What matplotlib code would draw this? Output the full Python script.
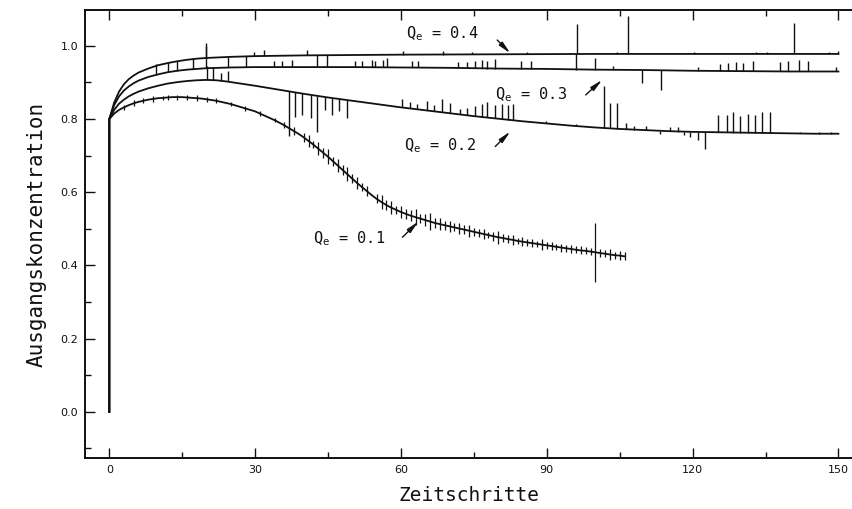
import numpy as np
import matplotlib.pyplot as plt
from matplotlib.ticker import MultipleLocator, FormatStrFormatter

INK = "#111111"
MONO = "DejaVu Sans Mono"

plt.rcParams.update({
    "mathtext.fontset": "custom",
    "mathtext.rm": MONO,
    "mathtext.it": MONO,
    "font.size": 8,
})

# ── data ──────────────────────────────────────────────────────────────────────
start_level = 0.0                      # every run starts at 0 and jumps to 0.8
q_values = [0.1, 0.2, 0.3, 0.4]

# Q_e = 0.1, one value per time step 0..106
q1_y = [0.800, 0.815, 0.825, 0.832, 0.838, 0.843, 0.847, 0.850, 0.853, 0.855,
        0.857, 0.858, 0.859, 0.860, 0.860, 0.860, 0.859, 0.858, 0.857, 0.856,
        0.854, 0.852, 0.850, 0.847, 0.844, 0.841, 0.837, 0.833, 0.829, 0.825,
        0.821, 0.815, 0.809, 0.803, 0.797, 0.790, 0.783, 0.775, 0.767, 0.759,
        0.750, 0.740, 0.730, 0.719, 0.708, 0.697, 0.685, 0.673, 0.661, 0.649,
        0.637, 0.625, 0.614, 0.603, 0.592, 0.582, 0.573, 0.565, 0.558, 0.552,
        0.546, 0.541, 0.536, 0.532, 0.528, 0.524, 0.520, 0.516, 0.513, 0.510,
        0.507, 0.504, 0.501, 0.498, 0.495, 0.492, 0.489, 0.486, 0.483, 0.480,
        0.477, 0.475, 0.472, 0.470, 0.467, 0.465, 0.463, 0.461, 0.459, 0.457,
        0.455, 0.453, 0.451, 0.449, 0.447, 0.445, 0.443, 0.441, 0.440, 0.438,
        0.436, 0.434, 0.432, 0.430, 0.428, 0.427, 0.425]
q1_tick_steps = [3, 5, 7, 9, 11, 12, 14, 16, 18, 20, 22, 25, 28, 31, 34, 36, 38,
                 40, 41, 42, 43, 44, 45, 46, 47, 48, 49, 50, 51, 52, 53,
                 55, 56, 57, 58, 59, 60, 61, 62, 63, 64, 65, 66, 67, 68, 69, 70,
                 71, 72, 73, 74, 75,
                 76, 77, 78, 79, 80, 81, 82, 83, 84, 85, 86, 87, 88, 89, 90, 91,
                 92, 93, 94, 95, 96, 97, 98, 99, 100, 101, 102, 103, 104, 105, 106]
q1_tick_half = [0.006, 0.008, 0.007, 0.008, 0.006, 0.008, 0.007, 0.006, 0.008,
                0.006, 0.007, 0.006, 0.008, 0.007, 0.006, 0.008, 0.010,
                0.012, 0.016, 0.010, 0.018, 0.014, 0.020, 0.012, 0.017, 0.013,
                0.019, 0.012, 0.016, 0.011, 0.014,
                0.012, 0.020, 0.014, 0.018, 0.011, 0.016, 0.013, 0.015, 0.022,
                0.012, 0.016, 0.024, 0.013, 0.017, 0.012, 0.015, 0.011, 0.014,
                0.012, 0.016, 0.011,
                0.010, 0.013, 0.009, 0.012, 0.018, 0.011, 0.010, 0.013, 0.009,
                0.012, 0.010, 0.011, 0.009, 0.016, 0.010, 0.012, 0.009, 0.011,
                0.010, 0.012, 0.009, 0.011, 0.010, 0.009, 0.080, 0.012, 0.010,
                0.014, 0.009, 0.012, 0.011]

# Q_e = 0.2
q2_x = [0, 1, 2, 3, 4, 5, 6, 8, 10, 12, 14, 16, 18, 20, 22, 24, 26, 28, 30,
        35, 40, 45, 50, 55, 60, 65, 70, 75, 80, 85, 90, 95, 100, 105, 110,
        115, 120, 125, 130, 135, 140, 145, 150]
q2_y = [0.800, 0.825, 0.842, 0.853, 0.862, 0.869, 0.875, 0.884, 0.891, 0.897,
        0.901, 0.904, 0.906, 0.907, 0.906, 0.903, 0.899, 0.895, 0.891,
        0.880, 0.869, 0.859, 0.850, 0.841, 0.832, 0.824, 0.816, 0.808, 0.801,
        0.794, 0.788, 0.782, 0.777, 0.773, 0.770, 0.767, 0.765, 0.764, 0.763,
        0.762, 0.761, 0.760, 0.760]
q2_spike_x = [20.0, 21.3, 23.0, 24.5,
              36.9, 38.3, 39.6, 41.4, 42.7, 44.4, 45.8, 47.2, 48.9,
              60.2, 61.9, 63.2, 65.3, 66.7, 68.4, 70.1, 72.2, 73.6, 75.3, 76.6,
              77.7, 79.4, 80.8, 82.1, 83.1, 89.8, 96.0,
              101.7, 103.1, 104.5, 106.2, 108.0, 110.5, 113.3, 115.3, 117.0,
              118.2, 119.5, 121.2, 122.6,
              125.3, 127.0, 128.4, 129.8, 131.5, 132.8, 134.2, 136.0,
              142.0, 146.0, 148.5]
q2_spike_from = [0.907, 0.906, 0.905, 0.903,
                 0.877, 0.874, 0.870, 0.867, 0.864, 0.861, 0.858, 0.855, 0.852,
                 0.832, 0.829, 0.827, 0.824, 0.821, 0.819, 0.816, 0.813, 0.811,
                 0.808, 0.806, 0.805, 0.802, 0.800, 0.798, 0.797, 0.789, 0.781,
                 0.776, 0.775, 0.774, 0.772, 0.771, 0.770, 0.768, 0.767, 0.766,
                 0.766, 0.765, 0.765, 0.764,
                 0.764, 0.764, 0.763, 0.763, 0.763, 0.763, 0.762, 0.762,
                 0.761, 0.760, 0.760]
q2_spike_to = [0.945, 0.943, 0.925, 0.930,
               0.753, 0.807, 0.810, 0.803, 0.766, 0.825, 0.812, 0.821, 0.803,
               0.854, 0.846, 0.840, 0.850, 0.838, 0.854, 0.843, 0.828, 0.831,
               0.835, 0.840, 0.848, 0.838, 0.842, 0.838, 0.840, 0.795, 0.787,
               0.889, 0.845, 0.845, 0.790, 0.782, 0.780, 0.758, 0.778, 0.778,
               0.757, 0.752, 0.744, 0.717,
               0.810, 0.812, 0.818, 0.808, 0.815, 0.810, 0.818, 0.818,
               0.766, 0.765, 0.766]

# Q_e = 0.3
q3_x = [0, 1, 2, 3, 4, 5, 6, 8, 10, 12, 14, 16, 18, 20, 25, 30,
        40, 50, 60, 70, 80, 90, 100, 110, 120, 130, 140, 150]
q3_y = [0.800, 0.838, 0.862, 0.878, 0.889, 0.898, 0.905, 0.915, 0.922, 0.928,
        0.932, 0.935, 0.937, 0.939, 0.941, 0.942,
        0.942, 0.942, 0.941, 0.940, 0.938, 0.937, 0.935, 0.934, 0.932, 0.931,
        0.930, 0.930]
q3_spike_x = [9.6, 12.0, 14.0, 17.3, 19.9, 24.5, 28.2, 33.9, 35.6, 37.6, 42.7,
              44.8, 50.6, 51.9, 54.0, 54.7, 56.4, 57.1, 62.2, 63.5, 71.8, 73.6,
              75.3, 76.6, 77.7, 79.4, 84.7, 86.8, 96.0, 100.0, 103.6, 109.5,
              113.4, 121.2, 125.6, 127.3, 129.0, 130.4, 132.5, 138.0, 139.7,
              141.8, 143.8, 149.6]
q3_spike_from = [0.920, 0.928, 0.932, 0.936, 0.939, 0.941, 0.942, 0.942, 0.942,
                 0.942, 0.942, 0.942, 0.942, 0.942, 0.942, 0.942, 0.941, 0.941,
                 0.941, 0.941, 0.940, 0.939, 0.939, 0.939, 0.938, 0.938, 0.937,
                 0.937, 0.935, 0.935, 0.935, 0.934, 0.933, 0.932, 0.932, 0.932,
                 0.931, 0.931, 0.931, 0.930, 0.930, 0.930, 0.930, 0.930]
q3_spike_to = [0.950, 0.955, 0.960, 0.966, 1.000, 0.970, 0.972, 0.958, 0.960,
               0.962, 0.975, 0.975, 0.958, 0.960, 0.962, 0.958, 0.962, 0.966,
               0.958, 0.960, 0.956, 0.957, 0.958, 0.962, 0.958, 0.964, 0.958,
               0.960, 0.978, 0.968, 0.945, 0.898, 0.880, 0.942, 0.950, 0.952,
               0.955, 0.952, 0.958, 0.955, 0.958, 0.962, 0.960, 0.942]

# Q_e = 0.4
q4_x = [0, 1, 2, 3, 4, 5, 6, 8, 10, 12, 14, 16, 18, 20, 25, 30,
        40, 60, 80, 100, 120, 150]
q4_y = [0.800, 0.845, 0.875, 0.895, 0.909, 0.919, 0.927, 0.938, 0.947, 0.953,
        0.958, 0.962, 0.965, 0.967, 0.970, 0.972,
        0.974, 0.976, 0.977, 0.978, 0.978, 0.978]
q4_spike_x = [19.9, 29.7, 31.9, 40.7, 60.5, 68.6, 74.7, 86.0, 96.3, 104.5,
              106.8, 120.3, 133.0, 135.4, 140.8, 148.0, 150.0]
q4_spike_from = [0.967, 0.972, 0.972, 0.974, 0.976, 0.976, 0.977, 0.977, 0.978,
                 0.978, 0.978, 0.978, 0.978, 0.978, 0.978, 0.978, 0.978]
q4_spike_to = [1.007, 0.982, 0.990, 0.988, 0.985, 0.987, 0.984, 0.984, 1.060,
               0.984, 1.082, 0.984, 0.983, 0.984, 1.063, 0.984, 0.985]

# ── figure ───────────────────────────────────────────────────────────────────
fig = plt.figure(figsize=(8.53, 5.09), dpi=100)
ax = fig.add_axes([85 / 853, 1 - 458 / 509, 768 / 853, 448 / 509])

LW = 1.3
steps = np.arange(len(q1_y))
ax.plot(np.r_[0, steps], np.r_[start_level, q1_y], color=INK, lw=LW)
q1_arr = np.array(q1_y)
half = np.array(q1_tick_half)
ax.vlines(q1_tick_steps, q1_arr[q1_tick_steps] - half, q1_arr[q1_tick_steps] + half,
          color=INK, lw=0.9)

for xs, ys, sx, sf, st in [
    (q2_x, q2_y, q2_spike_x, q2_spike_from, q2_spike_to),
    (q3_x, q3_y, q3_spike_x, q3_spike_from, q3_spike_to),
    (q4_x, q4_y, q4_spike_x, q4_spike_from, q4_spike_to),
]:
    ax.plot(np.r_[0, xs], np.r_[start_level, ys], color=INK, lw=LW)
    ax.vlines(sx, sf, st, color=INK, lw=1.0)

# curve labels with arrows
label_pos = [(42.0, 0.474), (60.7, 0.727), (79.4, 0.866), (61.0, 1.033)]
arrow_tail = [(60.3, 0.477), (79.4, 0.725), (98.0, 0.866), (79.8, 1.016)]
arrow_head = [(63.6, 0.520), (82.5, 0.766), (101.4, 0.907), (82.5, 0.980)]
for q, (tx, ty), tail, head in zip(q_values, label_pos, arrow_tail, arrow_head):
    ax.text(tx, ty, f"Q$_e$ = {q}", family=MONO, fontsize=11, color=INK,
            ha="left", va="center")
    ax.annotate("", xy=head, xytext=tail,
                arrowprops=dict(arrowstyle="-|>,head_length=0.9,head_width=0.18",
                                color=INK, lw=1.0, shrinkA=0, shrinkB=0))

ax.set_xlim(-5, 153)
ax.set_ylim(-0.126, 1.098)
ax.xaxis.set_major_locator(MultipleLocator(30))
ax.xaxis.set_minor_locator(MultipleLocator(15))
ax.yaxis.set_major_locator(MultipleLocator(0.2))
ax.yaxis.set_minor_locator(MultipleLocator(0.1))
ax.yaxis.set_major_formatter(FormatStrFormatter("%.1f"))
ax.tick_params(which="both", direction="in", top=True, right=False,
               color=INK, labelcolor=INK, width=1.0)
ax.tick_params(which="major", length=7, labelsize=8, pad=5)
ax.tick_params(which="minor", length=4)
ax.spines["right"].set_visible(False)
for side in ("left", "bottom", "top"):
    ax.spines[side].set_linewidth(1.4)
    ax.spines[side].set_color(INK)

ax.set_xlabel("Zeitschritte", family=MONO, fontsize=14, color=INK, labelpad=8)
ax.set_ylabel("Ausgangskonzentration", family=MONO, fontsize=15, color=INK,
              labelpad=10)

fig.savefig("out.png", dpi=100, facecolor="white")
